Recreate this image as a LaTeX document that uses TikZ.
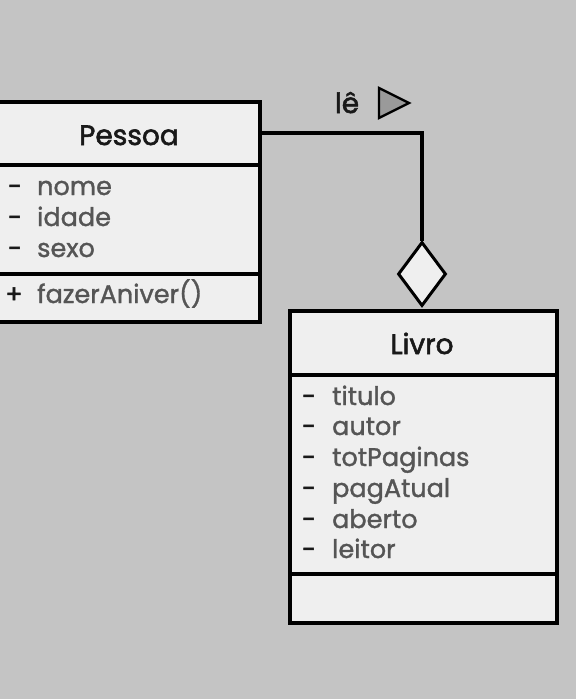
\documentclass[tikz,border=0pt]{standalone}
\usepackage{fontspec}
\setmainfont{Poppins}
\newfontfamily\umlTitleFont{Poppins}[FakeBold=2]
\newfontfamily\umlAttrFont{Poppins}[FakeBold=1.3]
\usepackage{tikz}
\usetikzlibrary{shapes.geometric}
\definecolor{bgGray}{HTML}{C4C4C4}
\definecolor{boxGray}{HTML}{EFEFEF}
\definecolor{attrGray}{HTML}{555555}
\definecolor{navGray}{HTML}{9A9A9A}
\begin{document}
\begin{tikzpicture}
[x=1pt,y=-1pt,%
    boxDecorate/.style={shape=rectangle,draw=black,fill=boxGray,line width=3.2pt,inner sep=0pt},%
    titleDecorate/.style={anchor=base,font=\umlTitleFont\fontsize{28}{30}\selectfont,text=black!90,inner sep=0pt},%
    attrDecorate/.style={anchor=base west,font=\umlAttrFont\fontsize{25.5}{28}\selectfont,text=attrGray,inner sep=0pt},%
    markDecorate/.style={anchor=base,font=\umlTitleFont\fontsize{25}{28}\selectfont,text=black!90,inner sep=0pt},%
    lineDecorate/.style={black,line width=3.2pt},%
    aggrDecorate/.style={shape=diamond,draw=black,fill=boxGray,line width=3pt,inner sep=0pt,minimum width=48pt,minimum height=64pt}]
    %% background
    \fill[bgGray] (0,0) rectangle (576,699);
    \useasboundingbox (0,0) rectangle (576,699);
    %% classes
    \node (pessoa) at (129,212) [boxDecorate,minimum width=262pt,minimum height=220pt] {};
    \node (livro) at (423.5,467) [boxDecorate,minimum width=267pt,minimum height=312pt] {};
    \draw[lineDecorate] (pessoa.west |- 0,165) -- (pessoa.east |- 0,165);
    \draw[lineDecorate] (pessoa.west |- 0,274) -- (pessoa.east |- 0,274);
    \draw[lineDecorate] (livro.west |- 0,375) -- (livro.east |- 0,375);
    \draw[lineDecorate] (livro.west |- 0,574) -- (livro.east |- 0,574);
    \node (pessoaTitle) at (129,145) [titleDecorate] {Pessoa};
    \node (livroTitle) at (422,354) [titleDecorate] {Livro};
    %% attributes
    \foreach \attname/\y in {nome/195, idade/226, sexo/257}
    {
        \node (pessoa-mark-\attname) at (15,\y) [markDecorate] {-};
        \node (pessoa-\attname) at (37,\y) [attrDecorate] {\attname};
    }
    \node (pessoa-mark-fazer) at (14,303) [markDecorate] {+};
    \node (pessoa-fazer) at (37,303) [attrDecorate] {fazerAniver()};
    \foreach \attname/\y in {titulo/405, autor/435, totPaginas/466, pagAtual/497, aberto/528, leitor/558}
    {
        \node (livro-mark-\attname) at (309,\y) [markDecorate] {-};
        \node (livro-\attname) at (332,\y) [attrDecorate] {\attname};
    }
    %% aggregation
    \node (aggr) at (422,274) [aggrDecorate] {};
    \coordinate (leBend) at (422,133);
    \draw[lineDecorate] (pessoa.east |- leBend) -- (leBend) -- (aggr.north);
    %% role name
    \node (le) at (347,113) [titleDecorate] {lê};
    \draw[black,fill=navGray,line width=2.4pt,line join=miter] (379,88) -- (409,103) -- (379,118) -- cycle;
\end{tikzpicture}
\end{document}
